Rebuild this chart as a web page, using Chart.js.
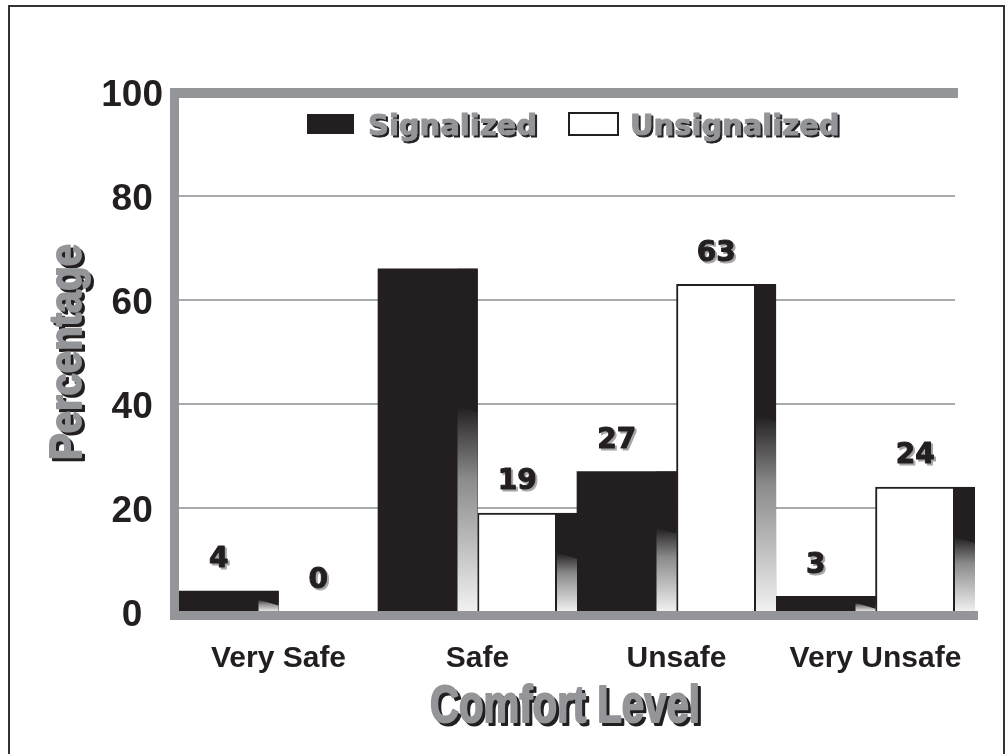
<!DOCTYPE html>
<html>
<head>
<meta charset="utf-8">
<script src="https://cdn.jsdelivr.net/npm/chart.js@4.4.1/dist/chart.umd.min.js"></script>
<style>
  html, body { margin: 0; padding: 0; background: #ffffff; }
  #wrap { width: 1005px; height: 754px; position: relative; }
</style>
</head>
<body>
<div id="wrap"><canvas id="chart" width="1005" height="754"></canvas></div>
<script>
// Survey results: share of respondents by comfort level at crossings
const categories = ['Very Safe', 'Safe', 'Unsafe', 'Very Unsafe'];
const seriesNames = ['Signalized', 'Unsignalized'];
const signalized = [4, 66, 27, 3];
const unsignalized = [0, 19, 63, 24];
// which bars carry a printed value
const signalizedLabeled = [true, false, true, true];
const unsignalizedLabeled = [true, true, true, true];
const yTicks = [0, 20, 40, 60, 80, 100];
const xTitle = 'Comfort Level';
const yTitle = 'Percentage';

const INK = '#231f20';
const FRAME = '#939598';
const GRID = '#a7a9ac';
const SIDE = 20; // width of the shaded side face on each bar

// heavy text: fill plus a thin stroke in the same colour, with an offset shade
function heavyText(ctx, text, x, y, fill, shade, dx, dy, weight) {
  ctx.lineJoin = 'round';
  ctx.lineWidth = weight;
  ctx.fillStyle = shade; ctx.strokeStyle = shade;
  ctx.strokeText(text, x + dx, y + dy);
  ctx.fillText(text, x + dx, y + dy);
  ctx.fillStyle = fill; ctx.strokeStyle = fill;
  ctx.strokeText(text, x, y);
  ctx.fillText(text, x, y);
}

function fittedText(ctx, text, x, y, width, fill, shade, dx, dy, weight) {
  const k = width / ctx.measureText(text).width;
  ctx.save();
  ctx.translate(x, y);
  ctx.scale(k, 1);
  heavyText(ctx, text, 0, 0, fill, shade, dx / k, dy, weight);
  ctx.restore();
}

// gridlines behind the bars
const gridPlugin = {
  id: 'gridBehind',
  beforeDatasetsDraw(chart) {
    const { ctx, chartArea, scales } = chart;
    ctx.save();
    ctx.fillStyle = GRID;
    yTicks.forEach(v => {
      if (v === 0 || v === 100) return;
      const py = scales.y.getPixelForValue(v);
      ctx.fillRect(chartArea.left, py - 1, 955 - chartArea.left, 2);
    });
    ctx.restore();
  }
};

// shaded side faces, value labels and the heavy grey frame
const barDecor = {
  id: 'barDecor',
  afterDatasetsDraw(chart) {
    const { ctx, chartArea, scales } = chart;
    const flags = [signalizedLabeled, unsignalizedLabeled];
    ctx.save();
    chart.data.datasets.forEach((ds, di) => {
      const meta = chart.getDatasetMeta(di);
      meta.data.forEach((bar, i) => {
        const p = bar.getProps(['x', 'y', 'base', 'width'], true);
        const left = p.x - p.width / 2;
        const sx = left + p.width - SIDE;
        const h = p.base - p.y;
        if (h >= 1) {
          const split = p.base - h * 0.6;
          ctx.fillStyle = INK;
          ctx.fillRect(sx, p.y, SIDE, split - p.y + 1);
          const g = ctx.createLinearGradient(0, split, 0, p.base);
          g.addColorStop(0, INK);
          g.addColorStop(0.35, '#8a8a8a');
          g.addColorStop(1, '#f2f2f2');
          ctx.fillStyle = g;
          ctx.fillRect(sx, split, SIDE, p.base - split);
          ctx.fillStyle = INK;
          ctx.beginPath();
          ctx.moveTo(sx, split);
          ctx.lineTo(sx + SIDE, split);
          ctx.lineTo(sx + SIDE, split + Math.min(6, p.base - split));
          ctx.closePath();
          ctx.fill();
          if (ds.borderWidth) {
            ctx.fillRect(sx - 2, p.y, 2, h);
          }
        }
        if (flags[di][i]) {
          ctx.font = 'bold 28px "DejaVu Sans"';
          ctx.textAlign = 'center';
          ctx.textBaseline = 'middle';
          const lx = (left + sx) / 2;
          const ly = p.y - 31;
          heavyText(ctx, String(ds.data[i]), lx, ly, INK, '#a6a6a6', 2, 2, 1);
        }
      });
    });
    // frame: top, left and base bars
    const top = scales.y.getPixelForValue(100);
    const bottom = scales.y.getPixelForValue(0);
    ctx.fillStyle = FRAME;
    ctx.fillRect(chartArea.left - 9, top - 4, 958 - (chartArea.left - 9), 10);
    ctx.fillRect(chartArea.left - 9, top - 4, 9, bottom + 8 - (top - 4));
    ctx.fillRect(chartArea.left - 9, bottom - 1, chartArea.right + 3 - (chartArea.left - 9), 9);
    ctx.restore();
  }
};

// legend, axis titles and the outer border
const textPlugin = {
  id: 'textDecor',
  afterDraw(chart) {
    const { ctx, chartArea } = chart;
    const ds = chart.data.datasets;
    ctx.save();
    // legend
    ctx.fillStyle = ds[0].backgroundColor;
    ctx.fillRect(307, 114, 47, 20);
    ctx.fillStyle = ds[1].backgroundColor;
    ctx.fillRect(569, 113, 49, 22);
    ctx.strokeStyle = ds[1].borderColor;
    ctx.lineWidth = 2;
    ctx.strokeRect(569, 113, 49, 22);
    ctx.font = 'bold 29px "DejaVu Sans"';
    ctx.textAlign = 'left';
    ctx.textBaseline = 'alphabetic';
    [[ds[0].label, 368], [ds[1].label, 630]].forEach(([t, x]) => {
      heavyText(ctx, t, x, 135, FRAME, INK, 2, 2, 1);
    });
    // x title
    ctx.textAlign = 'center';
    ctx.font = 'bold 51px "Liberation Sans"';
    fittedText(ctx, xTitle, 565, 722, 270, FRAME, INK, 3, 3, 2);
    // y title
    ctx.save();
    ctx.font = 'bold 44px "Liberation Sans"';
    ctx.translate(81, (chartArea.top + chartArea.bottom) / 2);
    ctx.rotate(-Math.PI / 2);
    fittedText(ctx, yTitle, 0, 0, 216, FRAME, INK, -3, 3, 2);
    ctx.restore();
    // outer border
    ctx.fillStyle = '#333333';
    ctx.fillRect(8, 5, 2, 749);
    ctx.fillRect(8, 5, 997, 2);
    ctx.fillRect(1003, 5, 2, 749);
    ctx.restore();
  }
};

new Chart(document.getElementById('chart'), {
  type: 'bar',
  data: {
    labels: categories,
    datasets: [
      {
        label: seriesNames[0],
        data: signalized,
        backgroundColor: INK,
        borderWidth: 0,
        categoryPercentage: 1,
        barPercentage: 1
      },
      {
        label: seriesNames[1],
        data: unsignalized,
        backgroundColor: '#ffffff',
        borderColor: INK,
        borderWidth: 2,
        categoryPercentage: 1,
        barPercentage: 1
      }
    ]
  },
  options: {
    responsive: false,
    animation: false,
    devicePixelRatio: 1,
    layout: { padding: { left: 0, right: 30, top: 92, bottom: 0 } },
    plugins: {
      legend: { display: false },
      tooltip: { enabled: false },
      title: { display: false }
    },
    scales: {
      x: {
        grid: { display: false, drawTicks: false },
        border: { display: false },
        ticks: {
          color: INK,
          font: { family: 'Liberation Sans', weight: 'bold', size: 30 },
          padding: 29,
          maxRotation: 0,
          autoSkip: false
        },
        afterFit(scale) { scale.height = 142; }
      },
      y: {
        min: 0,
        max: 100,
        afterBuildTicks(scale) { scale.ticks = yTicks.map(v => ({ value: v })); },
        grid: { display: false, drawTicks: false },
        border: { display: false },
        ticks: {
          color: INK,
          crossAlign: 'center',
          padding: 16,
          labelOffset: 4,
          font: { family: 'Liberation Sans', weight: 'bold', size: 37 }
        },
        afterFit(scale) { scale.width = 179; }
      }
    }
  },
  plugins: [gridPlugin, barDecor, textPlugin]
});
</script>
</body>
</html>
